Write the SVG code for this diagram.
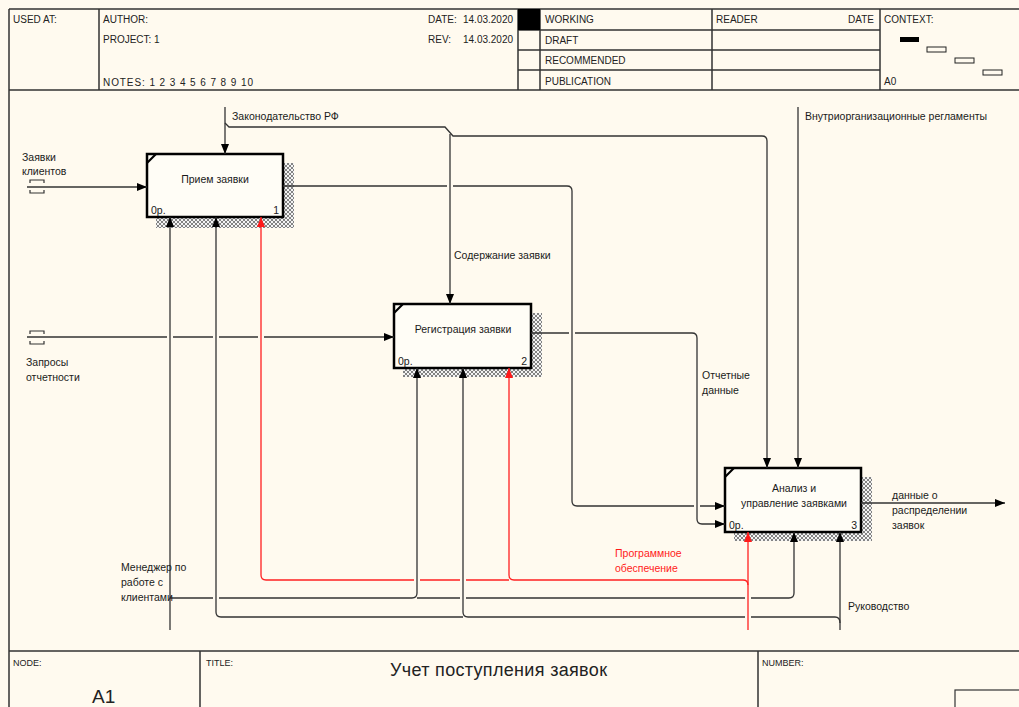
<svg xmlns="http://www.w3.org/2000/svg" width="1019" height="707" viewBox="0 0 1019 707">
<defs>
<style>
.frame{stroke:#333;stroke-width:1.5;fill:none}
.hd{font-family:"Liberation Sans",Arial,sans-serif;font-size:10px;fill:#222}
.ft{font-family:"Liberation Sans",Arial,sans-serif;font-size:9px;fill:#222}
.lbl{font-family:"Liberation Sans",Arial,sans-serif;font-size:10.5px;fill:#1a1a1a}
.red{fill:#ff1a1a}
.box{fill:#fffdf6;stroke:#000;stroke-width:2.5}
.corner{stroke:#000;stroke-width:2.2}
.shadow{fill:url(#hatch)}
.c{fill:none;stroke:#333;stroke-width:1.3}
.cr{fill:none;stroke:#ff2020;stroke-width:1.3}
.tun{fill:none;stroke:#333;stroke-width:1.2}
</style>
<pattern id="hatch" width="4" height="4" patternUnits="userSpaceOnUse">
<rect width="4" height="4" fill="#f4f4f4"/>
<path d="M0,0L4,4M4,0L0,4" stroke="#666" stroke-width="0.8"/>
</pattern>
<marker id="ah" viewBox="0 0 10 8" refX="10" refY="4" markerWidth="10" markerHeight="8" markerUnits="userSpaceOnUse" orient="auto"><path d="M0,0L10,4L0,8z" fill="#000"/></marker>
<marker id="ahr" viewBox="0 0 10 8" refX="10" refY="4" markerWidth="10" markerHeight="8" markerUnits="userSpaceOnUse" orient="auto"><path d="M0,0L10,4L0,8z" fill="#ff1a1a"/></marker>
</defs>
<rect x="0" y="0" width="1019" height="707" fill="#fffaef"/>

<g id="frame">
<path class="frame" d="M9,9H1019M9,90H1019M9,9V707M99,9V90M518,9V90M540,9V90M712,9V90M880,9V90M518,30H880M518,50H880M518,70H880M9,651H1019M200,651V707M758,651V707"/>
<rect x="518" y="9" width="22" height="21" fill="#000"/>
<rect x="900" y="37" width="19" height="5" fill="#000"/>
<rect x="927" y="47" width="19" height="5" fill="none" stroke="#222" stroke-width="1"/>
<rect x="955" y="58" width="19" height="5" fill="none" stroke="#222" stroke-width="1"/>
<rect x="983" y="70" width="19" height="5" fill="none" stroke="#222" stroke-width="1"/>
<rect x="955" y="690" width="70" height="20" fill="none" stroke="#333" stroke-width="1.2"/>
<text class="hd" x="13" y="23">USED AT:</text>
<text class="hd" x="103" y="23">AUTHOR:</text>
<text class="hd" x="103" y="43">PROJECT:  1</text>
<text class="hd" x="103" y="86" textLength="150">NOTES:  1  2  3  4  5  6  7  8  9  10</text>
<text class="hd" x="428" y="23">DATE:</text>
<text class="hd" x="463" y="23">14.03.2020</text>
<text class="hd" x="428" y="43">REV:</text>
<text class="hd" x="463" y="43">14.03.2020</text>
<text class="hd" x="545" y="23">WORKING</text>
<text class="hd" x="545" y="44">DRAFT</text>
<text class="hd" x="545" y="64">RECOMMENDED</text>
<text class="hd" x="545" y="85">PUBLICATION</text>
<text class="hd" x="716" y="23">READER</text>
<text class="hd" x="874" y="23" text-anchor="end">DATE</text>
<text class="hd" x="884" y="23">CONTEXT:</text>
<text class="hd" x="884" y="85">A0</text>
<text class="ft" x="13" y="666">NODE:</text>
<text class="ft" x="206" y="666">TITLE:</text>
<text class="ft" x="762" y="666">NUMBER:</text>
<text x="92" y="703" font-family="'Liberation Sans',Arial,sans-serif" font-size="19" fill="#222">A1</text>
<text x="390" y="676" font-family="'Liberation Sans',Arial,sans-serif" font-size="18" fill="#222" textLength="217">Учет поступления  заявок</text>
</g>

<g id="node1">
<rect class="shadow" x="156" y="163" width="138" height="65"/>
<rect class="box" x="147" y="154" width="136" height="63"/>
<line class="corner" x1="147" y1="163" x2="156" y2="154"/>
<text class="lbl" x="215" y="183" text-anchor="middle">Прием заявки</text>
<text class="lbl" x="151" y="214">0р.</text>
<text class="lbl" x="279" y="214" text-anchor="end">1</text>
</g>

<g id="node2">
<rect class="shadow" x="403" y="313" width="139" height="64"/>
<rect class="box" x="394" y="304" width="137" height="64"/>
<line class="corner" x1="394" y1="313" x2="403" y2="304"/>
<text class="lbl" x="463" y="333" text-anchor="middle">Регистрация заявки</text>
<text class="lbl" x="398" y="365">0р.</text>
<text class="lbl" x="527" y="365" text-anchor="end">2</text>
</g>

<g id="node3">
<rect class="shadow" x="734" y="477" width="138" height="64"/>
<rect class="box" x="725" y="468" width="136" height="64"/>
<line class="corner" x1="725" y1="477" x2="734" y2="468"/>
<text class="lbl" x="794" y="492" text-anchor="middle">Анализ и</text>
<text class="lbl" x="794" y="507" text-anchor="middle">управление заявками</text>
<text class="lbl" x="729" y="529">0р.</text>
<text class="lbl" x="857" y="529" text-anchor="end">3</text>
</g>

<g id="connectors">
<!-- Законодательство РФ -->
<path class="c" d="M225,107V154" marker-end="url(#ah)"/>
<path class="c" d="M225,123L229,127H445L453,136H762Q767,136 767,141V468" marker-end="url(#ah)"/>
<path class="c" d="M450,134V304" marker-end="url(#ah)"/>
<!-- Внутриорганизационные регламенты -->
<path class="c" d="M798,107V468" marker-end="url(#ah)"/>
<!-- Заявки клиентов -->
<path class="c" d="M27,187H147" marker-end="url(#ah)"/>
<path class="tun" d="M30,183V180H44V183M30,190V193H44V190"/>
<!-- Запросы отчетности -->
<path class="c" d="M27,337H167M173,337H213M219,337H258M264,337H394" marker-end="url(#ah)"/>
<path class="tun" d="M30,334V331H44V334M30,341V344H44V341"/>
<!-- box1 -> box3 -->
<path class="c" d="M283,186H447M453,186H567Q572,186 572,191V501Q572,506 577,506H694M700,506H725" marker-end="url(#ah)"/>
<!-- box2 -> box3 -->
<path class="c" d="M531,333H569M575,333H692Q697,333 697,338V519Q697,524 702,524H725" marker-end="url(#ah)"/>
<!-- box3 output -->
<path class="c" d="M861,503H1005" marker-end="url(#ah)"/>
<!-- Менеджер по работе с клиентами -->
<path class="c" d="M170,630V217" marker-end="url(#ah)"/>
<path class="c" d="M170,598H213M219,598H412Q417,598 417,593V368" marker-end="url(#ah)"/>
<path class="c" d="M417,598H460M466,598H745M751,598H789Q794,598 794,593V532" marker-end="url(#ah)"/>
<!-- Руководство -->
<path class="c" d="M840,630V532" marker-end="url(#ah)"/>
<path class="c" d="M840,623Q840,617 835,617H751M745,617H468Q463,617 463,612V368" marker-end="url(#ah)"/>
<path class="c" d="M463,617H221Q216,617 216,612V217" marker-end="url(#ah)"/>
<!-- Программное обеспечение -->
<path class="cr" d="M748,630V532" marker-end="url(#ahr)"/>
<path class="cr" d="M748,585Q748,580 743,580H514Q509,580 509,575V368" marker-end="url(#ahr)"/>
<path class="cr" d="M509,580H466M460,580H420M414,580H266Q261,580 261,575V217" marker-end="url(#ahr)"/>
<!-- labels -->
<text class="lbl" x="232" y="120">Законодательство РФ</text>
<text class="lbl" x="454" y="259">Содержание заявки</text>
<text class="lbl" x="805" y="120">Внутриорганизационные регламенты</text>
<text class="lbl" x="22" y="161">Заявки</text>
<text class="lbl" x="22" y="175">клиентов</text>
<text class="lbl" x="26" y="366">Запросы</text>
<text class="lbl" x="26" y="381">отчетности</text>
<text class="lbl" x="702" y="379">Отчетные</text>
<text class="lbl" x="702" y="394">данные</text>
<text class="lbl" x="892" y="499">данные о</text>
<text class="lbl" x="892" y="514">распределении</text>
<text class="lbl" x="892" y="529">заявок</text>
<text class="lbl" x="121" y="571">Менеджер по</text>
<text class="lbl" x="121" y="586">работе с</text>
<text class="lbl" x="121" y="601">клиентами</text>
<text class="lbl red" x="615" y="557">Программное</text>
<text class="lbl red" x="615" y="572">обеспечение</text>
<text class="lbl" x="848" y="610">Руководство</text>
</g>
</svg>
